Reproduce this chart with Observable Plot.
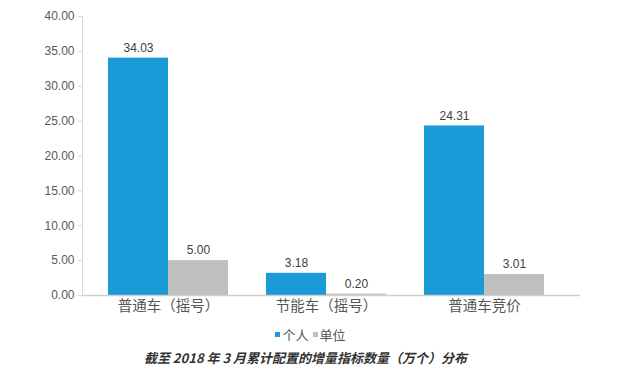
<!DOCTYPE html>
<html>
<head>
<meta charset="utf-8">
<script src="https://cdn.jsdelivr.net/npm/d3@7"></script>
<script src="https://cdn.jsdelivr.net/npm/@observablehq/plot@0.6"></script>
<style>
  body { margin: 0; background: #fff; font-family: "Liberation Sans", "Noto Sans CJK SC", sans-serif; }
  #chart svg { display: block; }
  .legend { height: 20px; display: flex; justify-content: center; align-items: center; font: 13px "Noto Sans CJK SC", sans-serif; color: #555; margin-top: 2px; position: relative; left: -6px; }
  .legend span.sw { display: inline-block; width: 5px; height: 5px; margin-right: 2px; }
  .legend span.item { margin: 0 2px; display: inline-flex; align-items: center; }
  .title { text-align: center; font: italic bold 13px "Noto Sans CJK SC", sans-serif; color: #333; margin-top: 4px; position: relative; left: -11px; }
</style>
</head>
<body>
<div id="chart"></div>
<div class="legend" id="legend"></div>
<div class="title">截至 2018 年 3 月累计配置的增量指标数量（万个）分布</div>
<script>
const categories = ["普通车（摇号）", "节能车（摇号）", "普通车竞价"];
const seriesNames = ["个人", "单位"];
const personal = [34.03, 3.18, 24.31];
const organization = [5.00, 0.20, 3.01];
const yTicks = [0, 5, 10, 15, 20, 25, 30, 35, 40];
const colors = ["#1a9ad6", "#bfbfbf"];

const data = categories.map((c, i) => ({cat: c, p: personal[i], o: organization[i]}));

const chart = Plot.plot({
  width: 633,
  height: 322,
  marginLeft: 82,
  marginRight: 53,
  marginTop: 16,
  marginBottom: 27,
  style: {fontFamily: "'Liberation Sans', 'Noto Sans CJK SC', sans-serif", background: "#fff"},
  x: {domain: categories, range: [88, 564], paddingInner: 0.243, paddingOuter: 0.12},
  y: {domain: [0, 40]},
  marks: [
    Plot.barY(data, {x: "cat", y: "p", fill: colors[0], insetLeft: 0, insetRight: 60}),
    Plot.barY(data, {x: "cat", y: "o", fill: colors[1], insetLeft: 60, insetRight: 0}),
    Plot.text(data, {x: "cat", y: "p", text: d => d.p.toFixed(2), dx: -30, dy: -10, fontSize: 12, fill: "#404040"}),
    Plot.text(data, {x: "cat", y: "o", text: d => d.o.toFixed(2), dx: 30, dy: -10, fontSize: 12, fill: "#404040"}),
    Plot.ruleY([0], {stroke: "#d0d0d0", strokeWidth: 1.5}),
    Plot.frame({anchor: "left", stroke: "#d9d9d9"}),
    Plot.axisY({ticks: yTicks, tickFormat: d => d.toFixed(2), tickSize: 4, tickPadding: 4, stroke: "#d9d9d9", fill: "#595959", fontSize: 12, label: null}),
    Plot.axisX({tickSize: 0, tickPadding: 5, fontSize: 14.5, fill: "#555", label: null, fontFamily: "'Noto Sans CJK SC', sans-serif"})
  ]
});
document.getElementById("chart").appendChild(chart);

const legend = document.getElementById("legend");
seriesNames.forEach((s, i) => {
  const item = document.createElement("span");
  item.className = "item";
  const sw = document.createElement("span");
  sw.className = "sw";
  sw.style.background = colors[i];
  item.appendChild(sw);
  item.appendChild(document.createTextNode(s));
  legend.appendChild(item);
});
</script>
</body>
</html>
